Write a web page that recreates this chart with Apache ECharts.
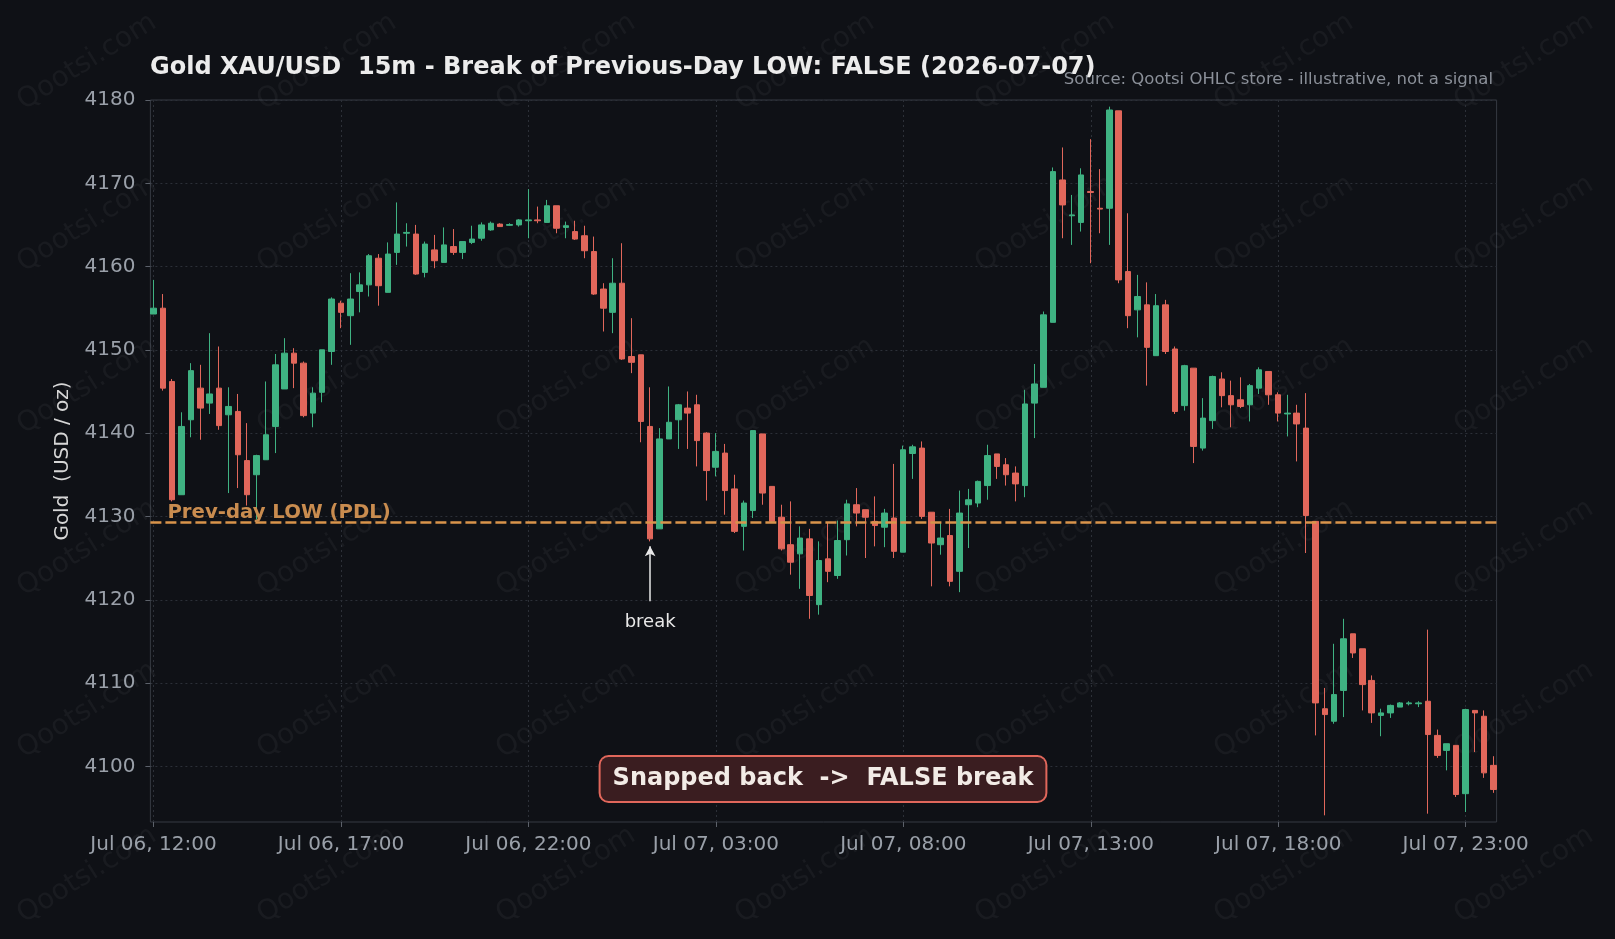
<!DOCTYPE html>
<html>
<head>
<meta charset="utf-8">
<title>Gold XAU/USD 15m - PDL break</title>
<script src="https://cdn.jsdelivr.net/npm/echarts@6.0.0/dist/echarts.min.js"></script>
<style>
  html, body { margin: 0; padding: 0; background: #0f1116; }
  #chart { width: 1615px; height: 939px; }
</style>
</head>
<body>
<div id="chart"></div>
<script>
// 15m candles, Jul 06 12:00 -> Jul 07 23:45 (144 bars)
const opens = [
  4154.3, 4155.0, 4146.2, 4132.6, 4141.6, 4145.4, 4143.6, 4145.4, 4142.2, 4142.6,
  4136.7, 4135.0, 4136.8, 4140.8, 4145.3, 4149.6, 4148.4, 4142.4, 4144.9, 4149.8,
  4155.6, 4154.1, 4157.0, 4157.8, 4161.0, 4156.9, 4161.7, 4164.0, 4163.9, 4159.3,
  4162.0, 4160.5, 4162.4, 4161.7, 4162.9, 4163.4, 4164.4, 4165.1, 4164.95, 4165.0,
  4165.5, 4165.6, 4165.3, 4167.3, 4164.7, 4164.2, 4163.7, 4161.8, 4157.3, 4154.5,
  4158.0, 4149.2, 4149.4, 4140.8, 4128.5, 4139.3, 4141.6, 4143.0, 4143.4, 4140.0,
  4135.9, 4137.6, 4133.3, 4128.8, 4130.7, 4139.9, 4133.6, 4129.9, 4126.6, 4125.5,
  4127.3, 4119.4, 4124.9, 4122.9, 4127.2, 4131.4, 4130.8, 4129.4, 4128.7, 4129.8,
  4125.7, 4137.55, 4138.2, 4130.5, 4126.6, 4127.7, 4123.4, 4131.4, 4131.6, 4133.7,
  4137.5, 4136.2, 4135.2, 4133.7, 4143.6, 4145.5, 4153.3, 4170.4, 4166.1, 4165.3,
  4169.0, 4167.0, 4167.0, 4178.7, 4159.4, 4154.8, 4155.4, 4149.3, 4155.4, 4150.1,
  4143.3, 4147.8, 4138.2, 4141.5, 4146.5, 4144.5, 4144.0, 4143.4, 4145.4, 4147.4,
  4144.6, 4142.3, 4142.4, 4140.6, 4129.4, 4106.9, 4105.4, 4109.1, 4115.9, 4114.1,
  4110.3, 4106.1, 4106.4, 4107.1, 4107.5, 4107.5, 4107.8, 4103.7, 4101.9, 4102.5,
  4096.7, 4106.7, 4106.0, 4100.1
];
const highs = [
  4158.4, 4156.7, 4146.5, 4142.5, 4148.4, 4148.2, 4152.0, 4150.4, 4145.5, 4144.7,
  4141.2, 4137.4, 4146.2, 4149.5, 4151.4, 4150.2, 4148.6, 4145.5, 4150.0, 4156.3,
  4155.9, 4159.2, 4159.3, 4161.5, 4161.5, 4162.9, 4167.7, 4165.2, 4165.0, 4163.0,
  4163.8, 4164.7, 4164.5, 4163.0, 4164.9, 4165.3, 4165.4, 4165.2, 4165.2, 4165.7,
  4169.3, 4167.2, 4168.0, 4167.3, 4165.4, 4165.5, 4164.9, 4163.6, 4158.0, 4161.0,
  4162.8, 4153.8, 4149.4, 4145.5, 4140.6, 4145.6, 4143.5, 4145.0, 4144.6, 4140.1,
  4140.0, 4138.7, 4135.0, 4131.9, 4140.3, 4139.9, 4133.6, 4131.4, 4131.8, 4128.8,
  4128.5, 4127.0, 4129.3, 4129.5, 4132.0, 4133.4, 4130.8, 4132.4, 4130.9, 4136.3,
  4138.5, 4138.6, 4139.0, 4130.5, 4129.3, 4130.9, 4133.1, 4133.3, 4134.3, 4138.6,
  4137.5, 4137.0, 4136.0, 4145.2, 4148.3, 4154.6, 4171.9, 4174.3, 4168.6, 4171.8,
  4175.3, 4171.7, 4179.2, 4178.7, 4166.4, 4159.0, 4158.1, 4156.7, 4156.0, 4150.4,
  4148.2, 4147.8, 4144.2, 4146.9, 4147.3, 4146.3, 4146.7, 4145.9, 4147.9, 4147.4,
  4144.9, 4144.6, 4143.4, 4144.8, 4129.4, 4109.4, 4114.7, 4117.7, 4115.9, 4114.1,
  4110.9, 4106.9, 4107.4, 4107.7, 4107.8, 4107.8, 4116.4, 4104.4, 4102.7, 4102.5,
  4106.9, 4106.7, 4106.7, 4101.2
];
const lows = [
  4154.3, 4145.1, 4131.8, 4132.6, 4139.5, 4139.2, 4142.3, 4140.4, 4132.8, 4133.4,
  4131.3, 4129.6, 4136.8, 4137.6, 4145.3, 4145.4, 4141.9, 4140.7, 4143.7, 4148.2,
  4152.6, 4150.6, 4154.5, 4156.4, 4155.3, 4156.9, 4160.2, 4162.4, 4159.0, 4158.7,
  4159.8, 4160.5, 4161.4, 4160.9, 4162.7, 4163.1, 4164.3, 4164.8, 4164.9, 4164.8,
  4163.4, 4165.2, 4165.3, 4164.0, 4163.4, 4163.2, 4161.0, 4156.6, 4152.2, 4152.0,
  4148.8, 4147.2, 4138.9, 4127.0, 4128.5, 4139.3, 4138.1, 4138.1, 4136.0, 4131.9,
  4134.8, 4130.2, 4128.0, 4125.9, 4129.8, 4131.4, 4129.2, 4125.9, 4123.0, 4121.3,
  4117.7, 4118.2, 4122.1, 4122.5, 4125.3, 4128.8, 4125.0, 4126.4, 4126.3, 4125.0,
  4125.7, 4134.5, 4129.7, 4121.6, 4125.4, 4121.6, 4120.9, 4126.2, 4131.1, 4132.0,
  4134.5, 4133.7, 4131.8, 4132.3, 4139.4, 4145.5, 4153.3, 4163.4, 4162.6, 4164.2,
  4160.4, 4164.0, 4162.6, 4158.0, 4152.6, 4151.5, 4145.7, 4149.3, 4149.5, 4142.3,
  4142.7, 4136.4, 4137.9, 4140.5, 4143.1, 4140.7, 4143.0, 4141.4, 4144.7, 4143.4,
  4141.4, 4139.6, 4136.6, 4125.6, 4103.7, 4094.1, 4105.1, 4105.9, 4113.0, 4106.7,
  4105.2, 4103.6, 4105.8, 4107.1, 4107.3, 4107.1, 4094.3, 4101.0, 4099.5, 4096.3,
  4094.5, 4101.7, 4098.6, 4096.8
];
const closes = [
  4155.0, 4145.4, 4132.0, 4140.8, 4147.5, 4143.0, 4144.7, 4140.9, 4143.2, 4137.4,
  4132.6, 4137.3, 4139.8, 4148.2, 4149.6, 4148.4, 4142.1, 4144.8, 4150.0, 4156.1,
  4154.5, 4156.1, 4157.8, 4161.3, 4157.7, 4161.5, 4163.9, 4164.1, 4159.1, 4162.7,
  4160.7, 4162.6, 4161.7, 4163.0, 4163.3, 4165.0, 4165.2, 4164.8, 4165.05, 4165.6,
  4165.6, 4165.5, 4167.3, 4164.6, 4164.9, 4163.3, 4161.9, 4156.7, 4155.0, 4158.0,
  4148.9, 4148.5, 4141.4, 4127.3, 4139.3, 4141.3, 4143.4, 4142.4, 4139.1, 4135.5,
  4137.8, 4133.1, 4128.2, 4131.6, 4140.3, 4132.8, 4129.4, 4126.1, 4124.5, 4127.4,
  4120.5, 4124.7, 4123.4, 4127.1, 4131.5, 4130.4, 4129.9, 4128.9, 4130.4, 4125.8,
  4138.0, 4138.35, 4130.0, 4126.8, 4127.4, 4122.2, 4130.4, 4132.0, 4134.2, 4137.3,
  4136.0, 4135.0, 4133.9, 4143.5, 4145.9, 4154.2, 4171.4, 4167.4, 4166.2, 4171.0,
  4168.9, 4166.9, 4178.8, 4158.4, 4154.1, 4156.4, 4150.3, 4155.3, 4149.8, 4142.6,
  4148.1, 4138.4, 4141.8, 4146.8, 4144.5, 4143.4, 4143.2, 4145.7, 4147.6, 4144.6,
  4142.4, 4142.4, 4141.1, 4130.1, 4107.6, 4106.2, 4108.6, 4115.3, 4113.6, 4109.8,
  4106.4, 4106.4, 4107.3, 4107.6, 4107.6, 4107.6, 4103.8, 4101.3, 4102.7, 4096.6,
  4106.8, 4106.4, 4099.2, 4097.2
];
// x tick labels, one every 20 bars (5 hours)
const xTickLabels = [
  'Jul 06, 12:00', 'Jul 06, 17:00', 'Jul 06, 22:00', 'Jul 07, 03:00',
  'Jul 07, 08:00', 'Jul 07, 13:00', 'Jul 07, 18:00', 'Jul 07, 23:00'
];
const prevDayLow = 4129.3;
const breakBar = 53;

const GREEN = '#3fb282';
const RED = '#e1675b';
const FONT = 'DejaVu Sans';
const GRID_COLOR = '#2c3038';
const TICK_TEXT = '#9aa0a9';

const candles = opens.map((o, i) => [i, o, closes[i], lows[i], highs[i]]);

// faint diagonal watermark
const watermark = [];
[62, 224, 386, 548, 710, 875].forEach(y => {
  [87, 327, 566, 805, 1045, 1284, 1524].forEach(x => {
    watermark.push({
      type: 'text', x: x, y: y, rotation: 32 * Math.PI / 180, z: 0, silent: true,
      style: {
        text: 'Qootsi.com', align: 'center', verticalAlign: 'middle',
        fill: 'rgba(255,255,255,0.045)', font: '28px "DejaVu Sans"'
      }
    });
  });
});

const chart = echarts.init(document.getElementById('chart'));
chart.setOption({
  backgroundColor: '#0f1116',
  animation: false,
  textStyle: { fontFamily: FONT },
  title: [{
    text: 'Gold XAU/USD  15m - Break of Previous-Day LOW: FALSE (2026-07-07)',
    left: 150, top: 56, padding: 0,
    textStyle: { color: '#ececec', fontSize: 24, fontWeight: 'bold', fontFamily: FONT }
  }, {
    text: 'Source: Qootsi OHLC store - illustrative, not a signal',
    right: 122, top: 71, padding: 0,
    textStyle: { color: '#8b9099', fontSize: 16.5, fontWeight: 'normal', fontFamily: FONT }
  }],
  grid: [
    { left: 150.4, right: 118.4, top: 100, bottom: 117, show: true, borderColor: '#363a42', borderWidth: 1, backgroundColor: 'transparent' },
    { left: 153.5, right: 149.3, top: 100, bottom: 117 },
    { left: 150.4, right: 118.4, top: 100, bottom: 172.6 }
  ],
  xAxis: [
    { gridIndex: 0, type: 'value', min: -0.33, max: 143.33, show: false },
    {
      gridIndex: 1, type: 'value', min: 0, max: 140, interval: 20,
      axisLine: { show: false },
      axisTick: { show: true, length: 5, lineStyle: { color: '#5c616a' } },
      axisLabel: {
        color: TICK_TEXT, fontSize: 20, margin: 13,
        formatter: v => xTickLabels[Math.round(v / 20)] || ''
      },
      splitLine: { show: true, lineStyle: { color: GRID_COLOR, type: [2, 3] } }
    },
    { gridIndex: 2, type: 'value', min: 0, max: 1, show: false }
  ],
  yAxis: [
    {
      gridIndex: 0, type: 'value', min: 4093.3, max: 4180, scale: true,
      name: 'Gold  (USD / oz)', nameLocation: 'middle', nameGap: 78,
      nameTextStyle: { color: '#d6d6d6', fontSize: 20 },
      axisLine: { show: false }, axisTick: { show: false },
      axisLabel: { show: false }, splitLine: { show: false }
    },
    { gridIndex: 1, type: 'value', min: 0, max: 1, show: false },
    {
      gridIndex: 2, type: 'value', min: 4100, max: 4180, interval: 10, scale: true,
      axisLine: { show: false },
      axisTick: { show: true, length: 5, lineStyle: { color: '#5c616a' } },
      axisLabel: { color: TICK_TEXT, fontSize: 20, margin: 15, formatter: v => String(v) },
      splitLine: { show: true, lineStyle: { color: GRID_COLOR, type: [2, 3] } }
    }
  ],
  series: [{
    type: 'candlestick',
    xAxisIndex: 0, yAxisIndex: 0,
    barWidth: 6,
    clip: false,
    data: candles,
    encode: { x: 0, y: [1, 2, 3, 4] },
    itemStyle: {
      color: GREEN, color0: RED,
      borderColor: GREEN, borderColor0: RED, borderWidth: 1
    },
    markLine: {
      silent: true,
      symbol: ['none', 'none'],
      data: [
        {
          yAxis: prevDayLow,
          lineStyle: { color: '#d9944b', width: 2.5, type: [11, 4] },
          label: {
            show: true, position: 'insideStartTop', distance: [17, -1],
            formatter: 'Prev-day LOW (PDL)',
            color: '#c98c4f', fontSize: 19.7, fontWeight: 'bold', fontFamily: FONT
          }
        },
        [
          {
            coord: [breakBar, 4119.8], symbol: 'none',
            lineStyle: { color: '#e8e8e8', width: 1.5, type: 'solid' },
            label: {
              show: true, position: 'start', distance: 12, formatter: 'break',
              color: '#e8e8e8', fontSize: 18, fontFamily: FONT
            }
          },
          { coord: [breakBar, 4126.4], symbol: 'arrow', symbolSize: [8, 10] }
        ]
      ]
    }
  }],
  graphic: watermark.concat([{
    type: 'text', x: 823, y: 779, z: 100,
    style: {
      text: 'Snapped back  ->  FALSE break',
      align: 'center', verticalAlign: 'middle',
      fill: '#f2ebe6', font: 'bold 24px "DejaVu Sans"',
      backgroundColor: '#3a1d20', borderColor: '#e1675b', borderWidth: 2,
      borderRadius: 8, padding: [10, 12]
    }
  }])
});
</script>
</body>
</html>
